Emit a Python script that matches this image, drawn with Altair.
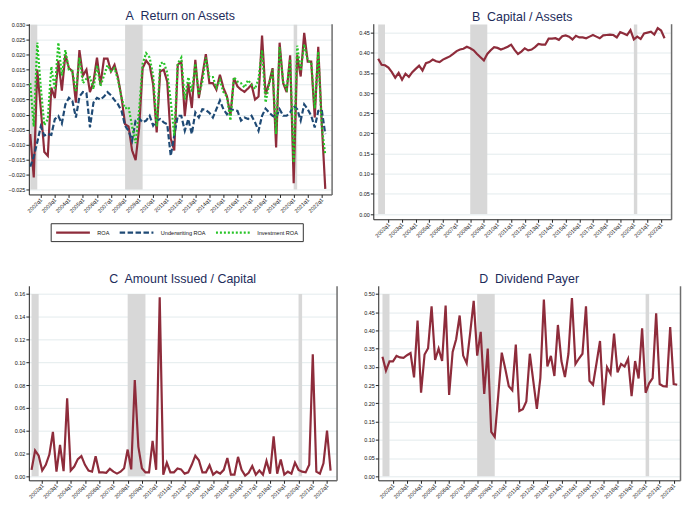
import altair as alt
import pandas as pd

# ---------------- data ----------------
quarters = [f"{y}q{q}" for y in range(2001, 2023) for q in range(1, 5)][1:86]  # 2001q2 .. 2022q2

roa = [-0.0065, -0.0210, 0.0150, 0.0020, -0.0125, -0.0138, 0.0090, 0.0055, 0.0180, 0.0080,
       0.0200, 0.0155, 0.0145, 0.0040, 0.0215, 0.0130, 0.0150, 0.0075, 0.0110, 0.0190,
       0.0100, 0.0187, 0.0187, 0.0144, 0.0166, 0.0122, 0.0056, -0.0032, -0.0040, -0.0120,
       -0.0152, -0.0045, 0.0155, 0.0180, 0.0165, 0.0100, -0.0060, 0.0144, 0.0150, 0.0110,
       -0.0080, -0.0120, 0.0166, 0.0177, -0.0005, 0.0105, 0.0022, 0.0183, 0.0055, 0.0130,
       0.0202, 0.0105, 0.0105, 0.0083, 0.0133, 0.0089, 0.0061, -0.0002, 0.0122, 0.0094,
       0.0083, 0.0076, 0.0087, 0.0100, 0.0050, 0.0060, 0.0264, 0.0067, 0.0105, 0.0155,
       -0.0110, 0.0240, 0.0105, 0.0075, 0.0198, -0.0229, 0.0198, 0.0127, 0.0273, 0.0177,
       0.0177, -0.0010, 0.0226, -0.0030, -0.0248]

uw_roa = [-0.0174, -0.0140, -0.0092, -0.0040, -0.0070, -0.0065, -0.0068, -0.0015, -0.0005, -0.0030,
          0.0034, 0.0056, 0.0045, -0.0010, 0.0060, 0.0075, 0.0072, -0.0043, 0.0040, 0.0056,
          0.0050, 0.0060, 0.0075, 0.0064, 0.0048, 0.0034, 0.0012, -0.0037, -0.0054, -0.0087,
          -0.0020, -0.0013, -0.0026, -0.0020, -0.0004, -0.0037, -0.0020, -0.0015, -0.0026, -0.0032,
          -0.0138, -0.0070, -0.0004, -0.0004, -0.0054, -0.0015, -0.0065, 0.0007, -0.0010, 0.0018,
          0.0015, 0.0006, -0.0010, 0.0018, 0.0047, 0.0018, 0.0001, 0.0018, 0.0015, 0.0012,
          -0.0020, -0.0010, -0.0015, -0.0004, -0.0026, -0.0054, -0.0004, 0.0020, 0.0007, -0.0004,
          -0.0010, 0.0018, -0.0004, -0.0004, 0.0007, 0.0029, 0.0018, -0.0020, 0.0034, 0.0018,
          -0.0004, -0.0043, 0.0012, 0.0015, -0.0065]

inv_roa = [0.0105, -0.0040, 0.0240, 0.0090, -0.0035, -0.0015, 0.0160, 0.0083, 0.0240, 0.0130,
           0.0215, 0.0150, 0.0145, 0.0075, 0.0190, 0.0105, 0.0120, 0.0125, 0.0085, 0.0165,
           0.0095, 0.0130, 0.0165, 0.0145, 0.0155, 0.0115, 0.0055, 0.0020, 0.0025, -0.0040,
           -0.0095, 0.0015, 0.0170, 0.0205, 0.0190, 0.0130, -0.0040, 0.0170, 0.0175, 0.0140,
           0.0045, -0.0070, 0.0170, 0.0190, 0.0050, 0.0125, 0.0075, 0.0170, 0.0065, 0.0110,
           0.0190, 0.0125, 0.0125, 0.0090, 0.0115, 0.0075, 0.0060, -0.0020, 0.0125, 0.0110,
           0.0105, 0.0090, 0.0115, 0.0100, 0.0085, 0.0120, 0.0215, 0.0040, 0.0100, 0.0150,
           -0.0065, 0.0225, 0.0110, 0.0085, 0.0185, -0.0160, 0.0230, 0.0145, 0.0235, 0.0180,
           0.0175, 0.0020, 0.0210, -0.0040, -0.0135]

cap_assets = [0.385, 0.370, 0.369, 0.363, 0.352, 0.338, 0.350, 0.333, 0.348, 0.340,
              0.352, 0.360, 0.368, 0.356, 0.374, 0.377, 0.383, 0.379, 0.377, 0.383,
              0.387, 0.391, 0.397, 0.404, 0.408, 0.410, 0.415, 0.411, 0.406, 0.397,
              0.389, 0.381, 0.397, 0.406, 0.414, 0.412, 0.408, 0.411, 0.415, 0.420,
              0.407, 0.397, 0.403, 0.411, 0.406, 0.408, 0.414, 0.422, 0.420, 0.420,
              0.435, 0.435, 0.436, 0.432, 0.441, 0.443, 0.440, 0.433, 0.442, 0.438,
              0.438, 0.436, 0.440, 0.444, 0.440, 0.436, 0.443, 0.444, 0.445, 0.444,
              0.438, 0.451, 0.448, 0.444, 0.456, 0.433, 0.440, 0.434, 0.448, 0.450,
              0.452, 0.445, 0.461, 0.455, 0.436]

issued = [0.0056, 0.0225, 0.0180, 0.0050, 0.0100, 0.0190, 0.0390, 0.0040, 0.0276, 0.0045,
          0.0685, 0.0050, 0.0085, 0.0150, 0.0177, 0.0100, 0.0050, 0.0040, 0.0175, 0.0034,
          0.0034, 0.0030, 0.0065, 0.0040, 0.0023, 0.0040, 0.0070, 0.0234, 0.0060, 0.0845,
          0.0260, 0.0070, 0.0034, 0.0034, 0.0310, 0.0056, 0.1570, 0.0014, 0.0118, 0.0034,
          0.0034, 0.0068, 0.0060, 0.0023, 0.0034, 0.0100, 0.0180, 0.0140, 0.0034, 0.0034,
          0.0096, 0.0014, 0.0040, 0.0023, 0.0056, 0.0160, 0.0014, 0.0014, 0.0170, 0.0056,
          0.0006, 0.0030, 0.0090, 0.0014, 0.0050, 0.0014, 0.0135, 0.0023, 0.0350, 0.0023,
          0.0146, 0.0014, 0.0040, 0.0023, 0.0120, 0.0056, 0.0040, 0.0034, 0.0100, 0.1070,
          0.0040, 0.0023, 0.0113, 0.0400, 0.0050]

dividend = [0.328, 0.290, 0.315, 0.315, 0.330, 0.326, 0.325, 0.332, 0.338, 0.271,
            0.427, 0.229, 0.334, 0.351, 0.466, 0.319, 0.350, 0.316, 0.468, 0.223,
            0.341, 0.376, 0.441, 0.331, 0.310, 0.393, 0.481, 0.331, 0.396, 0.226,
            0.350, 0.122, 0.108, 0.222, 0.339, 0.295, 0.247, 0.236, 0.361, 0.179,
            0.184, 0.205, 0.336, 0.260, 0.185, 0.270, 0.485, 0.301, 0.330, 0.275,
            0.415, 0.316, 0.272, 0.336, 0.489, 0.308, 0.323, 0.336, 0.466, 0.262,
            0.251, 0.310, 0.371, 0.195, 0.299, 0.281, 0.391, 0.285, 0.308, 0.301,
            0.322, 0.220, 0.316, 0.268, 0.406, 0.229, 0.255, 0.269, 0.447, 0.253,
            0.247, 0.246, 0.409, 0.253, 0.251]

recession_start = ["2001q2", "2008q1", "2020q1"]
recession_end = ["2001q4", "2009q2", "2020q2"]

series_names = ["ROA", "Underwriting ROA", "Investment ROA"]
tick_years = list(range(2002, 2023))

# ---------------- styling ----------------
FONT = "Liberation Sans"
RED = "#8e2c3b"
BLUE = "#1f4a75"
GREEN = "#27c427"
BAND = "#d8d8d8"
GRID = "#e3ebed"
TITLE_C = "#1d2c5b"
AX = "#222222"


def tnum(label):
    y, q = label.split("q")
    return int(y) + (int(q) - 1) / 4.0


t = [tnum(q) for q in quarters]


def panel(title, df, ydom, yvals, yfmt, band_lo, band_hi, xdom, w, h,
          color=None, dash=None):
    xsc = alt.Scale(domain=xdom, nice=False, zero=False)
    ysc = alt.Scale(domain=ydom, nice=False, zero=False)
    xax = alt.Axis(values=tick_years, labelExpr="datum.value + 'q1'", labelAngle=-45,
                   labelAlign="right", labelBaseline="middle", title=None, grid=False,
                   tickSize=3, tickColor=AX, domainColor=AX, labelFontSize=5.5,
                   labelFont=FONT, labelColor="#111", labelPadding=1, labelFlush=False,
                   labelOverlap=False)
    yax_left = alt.Axis(values=yvals, format=yfmt, title=None, grid=True, gridColor=GRID,
                        gridWidth=1, tickSize=3, tickColor=AX, domainColor=AX,
                        labelFontSize=5.5, labelFont=FONT, labelColor="#111",
                        labelPadding=1, labelOverlap=False)
    yax_right = alt.Axis(orient="right", labels=False, ticks=False, grid=False, title=None,
                         domainColor="#6e6e6e", domainWidth=1.5)
    bands = pd.DataFrame({
        "s": [tnum(q) for q in recession_start],
        "e": [tnum(q) for q in recession_end],
        "lo": [band_lo] * len(recession_start),
        "hi": [band_hi] * len(recession_start),
    })
    b = alt.Chart(bands).mark_rect(color=BAND).encode(
        x=alt.X("s:Q", scale=xsc, axis=xax), x2="e:Q",
        y=alt.Y("lo:Q", scale=ysc, axis=yax_left), y2="hi:Q")
    enc = dict(x=alt.X("t:Q", scale=xsc, axis=xax),
               y=alt.Y("v:Q", scale=ysc, axis=yax_right),
               order=alt.Order("t:Q"))
    if color is not None:
        enc["color"] = color
        enc["strokeDash"] = dash
        ln = alt.Chart(df).mark_line(strokeWidth=2.2).encode(**enc)
    else:
        ln = alt.Chart(df).mark_line(strokeWidth=2.2, color=RED).encode(**enc)
    return alt.layer(b, ln).resolve_axis(y="independent").properties(
        width=w, height=h,
        title=alt.TitleParams(title, fontSize=12.5, font=FONT, color=TITLE_C,
                              fontWeight="normal", offset=0, anchor="middle"))


# Panel A
dfA = pd.DataFrame({
    "t": t * 3,
    "v": roa + uw_roa + inv_roa,
    "series": [series_names[0]] * len(t) + [series_names[1]] * len(t) + [series_names[2]] * len(t),
})
leg = alt.Legend(title=None, orient="none", legendX=22, legendY=201, direction="horizontal",
                 symbolType="M-1,0H7.5", symbolSize=64, symbolStrokeWidth=2.2,
                 labelFontSize=5.6, labelFont=FONT, labelColor="#111", labelOffset=32,
                 columnPadding=5, padding=4, strokeColor="#333", fillColor="#ffffff",
                 labelLimit=0, gridAlign="none")
colA = alt.Color("series:N", scale=alt.Scale(domain=series_names, range=[RED, BLUE, GREEN]),
                 legend=leg, sort=series_names)
dashA = alt.StrokeDash("series:N", scale=alt.Scale(domain=series_names,
                                                   range=[[1, 0], [5.5, 2.5], [2, 2]]),
                       legend=leg, sort=series_names)
A = panel("A\u00a0 Return on Assets", dfA, [-0.02667, 0.03033],
          [-0.025, -0.02, -0.015, -0.01, -0.005, 0.0, 0.005, 0.01, 0.015, 0.02, 0.025, 0.03],
          ".3f", -0.025, 0.030, [2001.15, 2022.7], 305, 172, colA, dashA)

dfB = pd.DataFrame({"t": t, "v": cap_assets})
B = panel("B\u00a0 Capital / Assets", dfB, [-0.013, 0.472],
          [0.0, 0.05, 0.1, 0.15, 0.2, 0.25, 0.3, 0.35, 0.4, 0.45], ".2f",
          0.0, 0.47, [2000.89, 2022.73], 300, 197)

dfC = pd.DataFrame({"t": t, "v": issued})
C = panel("C\u00a0 Amount Issued / Capital", dfC, [-0.0036, 0.1672],
          [0.0, 0.02, 0.04, 0.06, 0.08, 0.10, 0.12, 0.14, 0.16], ".2f",
          0.0, 0.16, [2001.06, 2022.67], 310, 196)

dfD = pd.DataFrame({"t": t, "v": dividend})
D = panel("D\u00a0 Dividend Payer", dfD, [-0.0112, 0.5225],
          [0.0, 0.05, 0.1, 0.15, 0.2, 0.25, 0.3, 0.35, 0.4, 0.45, 0.5], ".2f",
          0.0, 0.50, [2000.95, 2022.45], 304, 196)

row1 = alt.hconcat(A, B, spacing=27)
row2 = alt.hconcat(C, D, spacing=27)
chart = alt.vconcat(row1, row2, spacing=34).properties(
    padding=0, background="white"
).configure_view(stroke=None)

chart.save("out.html", embed_options={"renderer": "svg", "actions": False})
